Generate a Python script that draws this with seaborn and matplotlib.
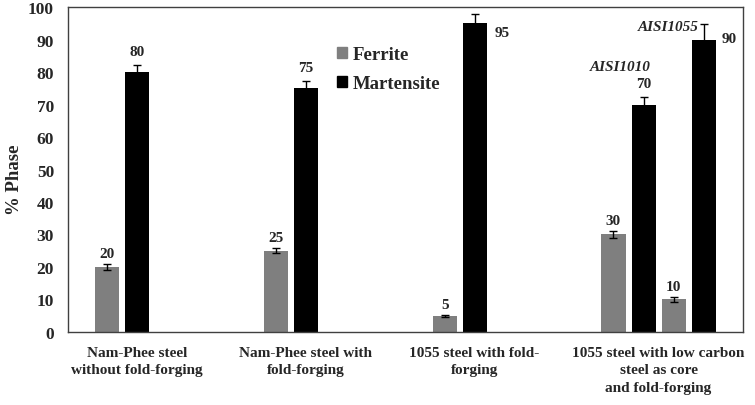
import numpy as np
import pandas as pd
import seaborn as sns
import matplotlib.pyplot as plt
from matplotlib.patches import Patch

groups = ["Nam-Phee steel\nwithout fold-forging",
          "Nam-Phee steel with\nfold-forging",
          "1055 steel with fold-\nforging",
          "1055 steel with low carbon\nsteel as core\nand fold-forging"]
ferrite = [20, 25, 5, 30]
ferrite_err = [0.8, 0.8, 0.3, 1.0]
martensite = [80, 75, 95, 70]
martensite_err = [2.3, 2.4, 2.8, 2.2]
# second pair only in the last group (AISI1055 part)
ferrite_b = [10]
ferrite_b_err = [0.7]
martensite_b = [90]
martensite_b_err = [4.8]

rows = []
for g, f, m in zip(groups, ferrite, martensite):
    rows.append((g, "Ferrite", f))
    rows.append((g, "Martensite", m))
rows.append((groups[3], "Ferrite B", ferrite_b[0]))
rows.append((groups[3], "Martensite B", martensite_b[0]))
df = pd.DataFrame(rows, columns=["sample", "phase", "value"])

sns.set_style("white")
plt.rcParams['font.family'] = ['Liberation Serif', 'DejaVu Serif']
plt.rcParams['font.weight'] = 'bold'

gray = "#7f7f7f"
pal = {"Ferrite": gray, "Martensite": "black", "Ferrite B": gray, "Martensite B": "black"}
hue_order = ["Ferrite", "Martensite", "Ferrite B", "Martensite B"]

fig, ax = plt.subplots(figsize=(7.55, 4.06), dpi=100)
fig.subplots_adjust(left=0.090, right=0.984, top=0.980, bottom=0.180)

sns.barplot(data=df, x="sample", y="value", hue="phase", hue_order=hue_order,
            palette=pal, order=groups, width=0.712, gap=0.2, legend=False,
            saturation=1, linewidth=0, ax=ax)

errs = [ferrite_err, martensite_err, ferrite_b_err, martensite_b_err]
vals = [ferrite, martensite, ferrite_b, martensite_b]
centers = []
for cont, e, v in zip(ax.containers, errs, vals):
    xs = [p.get_x() + p.get_width() / 2 for p in cont.patches]
    centers.append(xs)
    ax.errorbar(xs, v, yerr=e, fmt='none', ecolor='black', elinewidth=1, capsize=3, capthick=1)

lab = dict(fontsize=11, fontweight='bold')
for i in range(4):
    ax.annotate(str(ferrite[i]), (centers[0][i], ferrite[i] + ferrite_err[i]),
                xytext=(0, 3), textcoords='offset points', ha='center', va='bottom', **lab)
    if martensite[i] == 95:
        ax.annotate(str(martensite[i]), (centers[1][i], martensite[i]),
                    xytext=(14, -6.5), textcoords='offset points', ha='left', va='center', **lab)
    else:
        ax.annotate(str(martensite[i]), (centers[1][i], martensite[i] + martensite_err[i]),
                    xytext=(0, 5), textcoords='offset points', ha='center', va='bottom', **lab)
ax.annotate(str(ferrite_b[0]), (centers[2][0], ferrite_b[0] + ferrite_b_err[0]),
            xytext=(0, 3), textcoords='offset points', ha='center', va='bottom', **lab)
ax.annotate(str(martensite_b[0]), (centers[3][0], martensite_b[0]),
            xytext=(13, 1), textcoords='offset points', ha='left', va='center', **lab)

# alloy labels above the two pairs of the last group
p1010 = (centers[0][3] + centers[1][3]) / 2
p1055 = (centers[2][0] + centers[3][0]) / 2
ax.text(p1010 - 0.05, 81.8, "AISI1010", ha='center', va='center', fontsize=11,
        fontweight='bold', style='italic')
ax.text(p1055 - 0.12, 94.0, "AISI1055", ha='center', va='center', fontsize=11,
        fontweight='bold', style='italic')

ax.set_ylim(0, 100)
ax.set_xlim(-0.5, 3.5)
ax.set_yticks(np.arange(0, 101, 10))
ticks = [i - 0.09 for i in range(3)] + [3]
ax.set_xticks(ticks)
ax.set_xticklabels(groups, fontsize=11, fontweight='bold', linespacing=1.45)
ax.tick_params(axis='both', length=0)
ax.tick_params(axis='x', pad=10)
ax.tick_params(axis='y', labelsize=12.5, pad=10)
for t in ax.get_yticklabels():
    t.set_fontweight('bold')
ax.set_xlabel("")
ax.set_ylabel("% Phase", fontsize=13.5, fontweight='bold')
ax.yaxis.set_label_coords(-0.066, 0.472)
for s in ax.spines.values():
    s.set_color('#404040')
    s.set_linewidth(1)

handles = [Patch(color=gray, label="Ferrite"), Patch(color="black", label="Martensite")]
ax.legend(handles=handles, loc='upper left', bbox_to_anchor=(0.373, 0.932), frameon=False,
          handlelength=0.55, handleheight=0.55, handletextpad=0.3, labelspacing=0.65,
          prop={'size': 13.5, 'weight': 'bold'})

plt.savefig("out.png", dpi=100)
plt.close()
